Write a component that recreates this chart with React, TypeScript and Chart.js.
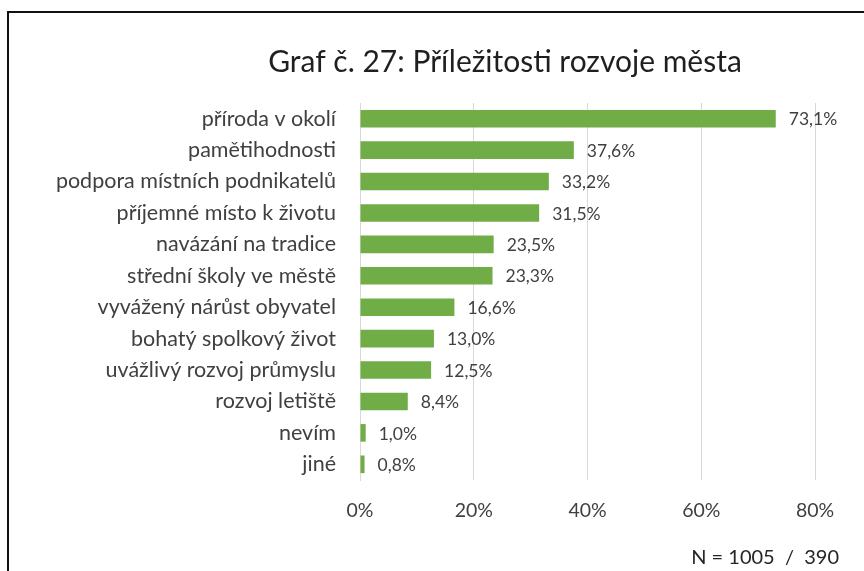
import React, { useEffect, useRef } from "react";
import { Chart, registerables } from "chart.js";

Chart.register(...registerables);

const categories = [
  "příroda v okolí",
  "pamětihodnosti",
  "podpora místních podnikatelů",
  "příjemné místo k životu",
  "navázání na tradice",
  "střední školy ve městě",
  "vyvážený nárůst obyvatel",
  "bohatý spolkový život",
  "uvážlivý rozvoj průmyslu",
  "rozvoj letiště",
  "nevím",
  "jiné",
];
const values = [73.1, 37.6, 33.2, 31.5, 23.5, 23.3, 16.6, 13.0, 12.5, 8.4, 1.0, 0.8];
const xTicks = [0, 20, 40, 60, 80];
const titleText = "Graf č. 27: Příležitosti rozvoje města";
const noteText = "N = 1005  /  390";

const FONT = "Lato";

const extras = {
  id: "extras",
  afterDraw(chart: any) {
    const ctx = chart.ctx as CanvasRenderingContext2D;
    const meta = chart.getDatasetMeta(0);
    ctx.save();
    // frame
    ctx.strokeStyle = "#111";
    ctx.lineWidth = 2;
    ctx.beginPath();
    ctx.moveTo(8, 600);
    ctx.lineTo(8, 12);
    ctx.lineTo(900, 12);
    ctx.stroke();
    // title
    ctx.fillStyle = "#1f1f1f";
    ctx.font = `30px ${FONT}`;
    ctx.textAlign = "center";
    ctx.textBaseline = "middle";
    ctx.fillText(titleText, 505, 62);
    // value labels
    ctx.fillStyle = "#404040";
    ctx.font = `17.5px ${FONT}`;
    ctx.textAlign = "left";
    meta.data.forEach((bar: any, i: number) => {
      const v = values[i].toFixed(1).replace(".", ",") + "%";
      ctx.fillText(v, bar.x + 13, bar.y + 1);
    });
    // note
    ctx.font = `20px ${FONT}`;
    ctx.fillStyle = "#262626";
    ctx.textAlign = "right";
    ctx.fillText(noteText, 839, 558);
    ctx.restore();
  },
};

export default function App() {
  const ref = useRef<HTMLCanvasElement>(null);
  useEffect(() => {
    document.body.style.margin = "0";
    const chart = new Chart(ref.current!, {
      type: "bar",
      data: {
        labels: categories,
        datasets: [
          {
            data: values,
            backgroundColor: "#70AD47",
            borderWidth: 0,
            barPercentage: 0.56,
            categoryPercentage: 1,
          },
        ],
      },
      options: {
        indexAxis: "y",
        responsive: false,
        animation: false,
        layout: { padding: { top: 103, right: 49, left: 0, bottom: 0 } },
        plugins: { legend: { display: false }, tooltip: { enabled: false }, title: { display: false } },
        scales: {
          x: {
            min: xTicks[0],
            max: xTicks[xTicks.length - 1],
            afterBuildTicks: (s: any) => {
              s.ticks = xTicks.map((v) => ({ value: v }));
            },
            ticks: {
              padding: 19,
              color: "#404040",
              font: { family: FONT, size: 19.5 },
              callback: (v: any) => v + "%",
            },
            grid: { color: "#d9d9d9", drawTicks: false },
            border: { display: false },
            afterFit: (s: any) => {
              s.height = 91;
            },
          },
          y: {
            ticks: {
              padding: 24,
              color: "#404040",
              font: { family: FONT, size: 21.5 },
              autoSkip: false,
            },
            grid: { display: false, drawTicks: false },
            border: { display: true, color: "#d9d9d9" },
            afterFit: (s: any) => {
              s.width = 360;
            },
          },
        },
      },
      plugins: [extras],
    });
    return () => chart.destroy();
  }, []);
  return <canvas ref={ref} width={864} height={571} style={{ display: "block" }} />;
}
